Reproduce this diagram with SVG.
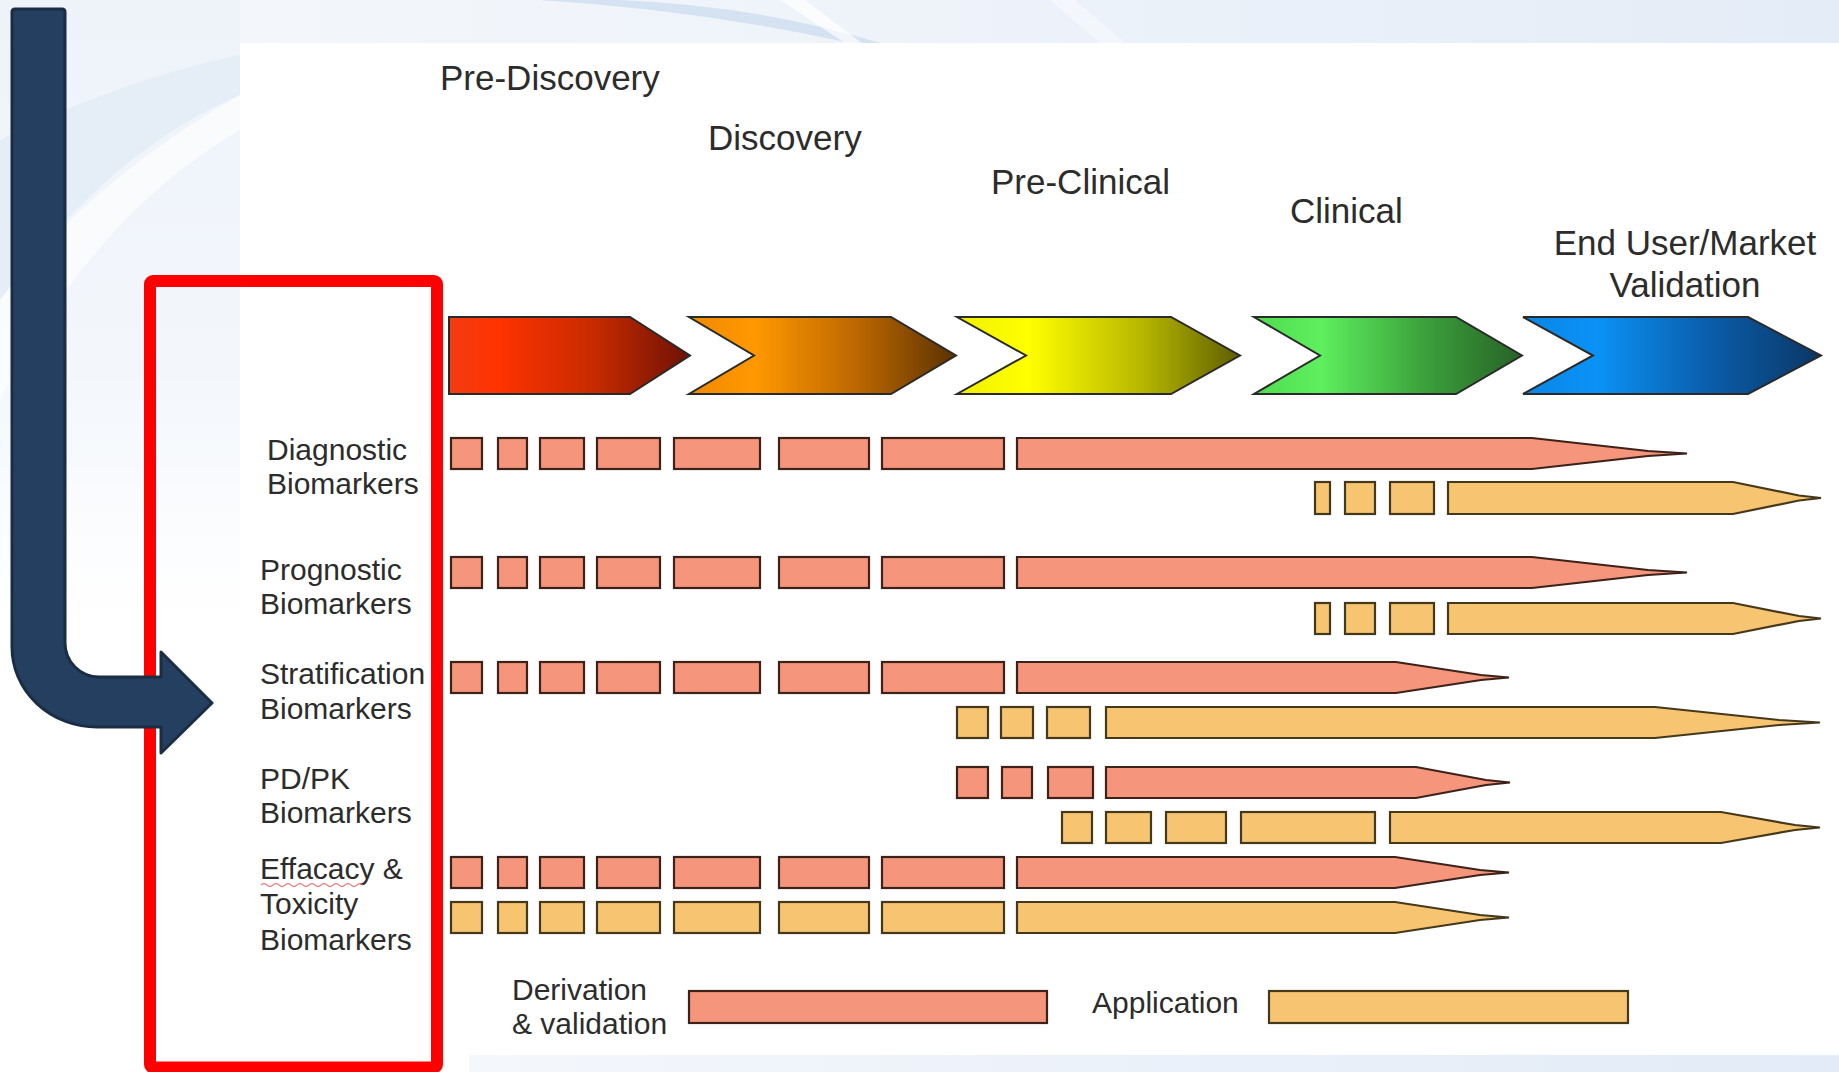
<svg xmlns="http://www.w3.org/2000/svg" width="1839" height="1072" viewBox="0 0 1839 1072">
<defs>
<style>
.lbl{font-family:"Liberation Sans",Arial,sans-serif;fill:#2c2c2c}
.ph{font-size:35px}
.rl{font-size:30px}
.s{fill:#f4957c;stroke:#3d2219;stroke-width:2.2}
.t{fill:#f7c571;stroke:#45391c;stroke-width:2.2}
.chev{stroke:#2a2a2a;stroke-width:2;stroke-linejoin:miter}
</style>
<linearGradient id="gTop" x1="0" y1="0" x2="1" y2="0">
<stop offset="0" stop-color="#f5f8fc"/><stop offset="0.5" stop-color="#eef3fa"/><stop offset="1" stop-color="#e4ecf7"/>
</linearGradient>
<linearGradient id="gBot" x1="0" y1="0" x2="1" y2="0">
<stop offset="0" stop-color="#f4f7fc"/><stop offset="1" stop-color="#e2ebf7"/>
</linearGradient>
<linearGradient id="gLeft" x1="0" y1="0" x2="0" y2="1">
<stop offset="0" stop-color="#eef3fa"/><stop offset="0.6" stop-color="#f3f7fc"/><stop offset="1" stop-color="#ffffff"/>
</linearGradient>
<linearGradient id="gRed" x1="0" y1="0" x2="1" y2="0">
<stop offset="0" stop-color="#f23c12"/><stop offset="0.2" stop-color="#ff3300"/><stop offset="0.6" stop-color="#c82a00"/><stop offset="1" stop-color="#6e1205"/>
</linearGradient>
<linearGradient id="gOrange" x1="0" y1="0" x2="1" y2="0">
<stop offset="0" stop-color="#f08a00"/><stop offset="0.25" stop-color="#ff9800"/><stop offset="0.65" stop-color="#b86400"/><stop offset="1" stop-color="#5a3200"/>
</linearGradient>
<linearGradient id="gYellow" x1="0" y1="0" x2="1" y2="0">
<stop offset="0" stop-color="#f0f000"/><stop offset="0.25" stop-color="#ffff00"/><stop offset="0.65" stop-color="#b8b800"/><stop offset="1" stop-color="#5e5e00"/>
</linearGradient>
<linearGradient id="gGreen" x1="0" y1="0" x2="1" y2="0">
<stop offset="0" stop-color="#4fdc4f"/><stop offset="0.25" stop-color="#5eef5e"/><stop offset="0.65" stop-color="#3a9e3a"/><stop offset="1" stop-color="#276227"/>
</linearGradient>
<linearGradient id="gBlue" x1="0" y1="0" x2="1" y2="0">
<stop offset="0" stop-color="#0a86e4"/><stop offset="0.25" stop-color="#0a92f6"/><stop offset="0.65" stop-color="#0a5aa6"/><stop offset="1" stop-color="#0b3766"/>
</linearGradient>
</defs>

<g id="background">
<rect x="0" y="0" width="1839" height="1072" fill="#ffffff"/>
<rect x="0" y="0" width="1839" height="43" fill="url(#gTop)"/>
<rect x="0" y="0" width="240" height="620" fill="url(#gLeft)"/>
<path d="M0,140 Q120,80 240,55 L240,95 Q110,150 0,300 Z" fill="#e2ebf6" opacity="0.8"/>
<path d="M0,300 Q90,180 240,95 L240,130 Q120,200 40,330 L0,400 Z" fill="#ffffff" opacity="0.6"/>
<path d="M540,0 Q700,10 850,43 L880,43 Q760,6 620,0 Z" fill="#d0e0f1" opacity="0.9"/>
<path d="M780,0 L845,43 L862,43 L805,0 Z" fill="#ffffff" opacity="0.7"/>
<path d="M1050,0 L1100,43 L1125,43 L1075,0 Z" fill="#ffffff" opacity="0.4"/>
<rect x="469" y="1055" width="1370" height="17" fill="url(#gBot)"/>
<rect x="240" y="43" width="1599" height="1012" fill="#ffffff"/>
</g>

<g id="phase-pre-discovery">
<polygon class="chev" fill="url(#gRed)" points="449,317 630,317 690,355.5 630,394 449,394"/>
<text class="lbl ph" x="440" y="90">Pre-Discovery</text>
</g>
<g id="phase-discovery">
<polygon class="chev" fill="url(#gOrange)" points="689,317 891,317 956,355.5 891,394 689,394 754,355.5"/>
<text class="lbl ph" x="708" y="150">Discovery</text>
</g>
<g id="phase-pre-clinical">
<polygon class="chev" fill="url(#gYellow)" points="957,317 1171,317 1240,355.5 1171,394 957,394 1026,355.5"/>
<text class="lbl ph" x="991" y="194">Pre-Clinical</text>
</g>
<g id="phase-clinical">
<polygon class="chev" fill="url(#gGreen)" points="1254,317 1456,317 1522,355.5 1456,394 1254,394 1320,355.5"/>
<text class="lbl ph" x="1290" y="223">Clinical</text>
</g>
<g id="phase-market">
<polygon class="chev" fill="url(#gBlue)" points="1523,317 1748,317 1821,355.5 1748,394 1523,394 1593,355.5"/>
<text class="lbl ph" x="1685" y="255" text-anchor="middle">End User/Market</text>
<text class="lbl ph" x="1685" y="297" text-anchor="middle">Validation</text>
</g>

<g id="row-diagnostic">
<text class="lbl rl" x="267" y="460">Diagnostic</text>
<text class="lbl rl" x="267" y="494">Biomarkers</text>
<rect class="s" x="451" y="438" width="31" height="31"/><rect class="s" x="498" y="438" width="29" height="31"/><rect class="s" x="540" y="438" width="44" height="31"/><rect class="s" x="597" y="438" width="63" height="31"/><rect class="s" x="674" y="438" width="86" height="31"/><rect class="s" x="779" y="438" width="90" height="31"/><rect class="s" x="882" y="438" width="122" height="31"/>
<polygon class="s" points="1017,438 1532,438 1648,451 1687,453.5 1648,456 1532,469 1017,469"/>
<rect class="t" x="1315" y="482" width="15" height="32"/><rect class="t" x="1345" y="482" width="30" height="32"/><rect class="t" x="1390" y="482" width="44" height="32"/>
<polygon class="t" points="1448,482 1733,482 1799,495.5 1821,498 1799,500.5 1733,514 1448,514"/>
</g>

<g id="row-prognostic">
<text class="lbl rl" x="260" y="580">Prognostic</text>
<text class="lbl rl" x="260" y="614">Biomarkers</text>
<rect class="s" x="451" y="557" width="31" height="31"/><rect class="s" x="498" y="557" width="29" height="31"/><rect class="s" x="540" y="557" width="44" height="31"/><rect class="s" x="597" y="557" width="63" height="31"/><rect class="s" x="674" y="557" width="86" height="31"/><rect class="s" x="779" y="557" width="90" height="31"/><rect class="s" x="882" y="557" width="122" height="31"/>
<polygon class="s" points="1017,557 1532,557 1648,570 1687,572.5 1648,575 1532,588 1017,588"/>
<rect class="t" x="1315" y="603" width="15" height="31"/><rect class="t" x="1345" y="603" width="30" height="31"/><rect class="t" x="1390" y="603" width="44" height="31"/>
<polygon class="t" points="1448,603 1733,603 1799,616 1821,618.5 1799,621 1733,634 1448,634"/>
</g>

<g id="row-stratification">
<text class="lbl rl" x="260" y="684">Stratification</text>
<text class="lbl rl" x="260" y="719">Biomarkers</text>
<rect class="s" x="451" y="662" width="31" height="31"/><rect class="s" x="498" y="662" width="29" height="31"/><rect class="s" x="540" y="662" width="44" height="31"/><rect class="s" x="597" y="662" width="63" height="31"/><rect class="s" x="674" y="662" width="86" height="31"/><rect class="s" x="779" y="662" width="90" height="31"/><rect class="s" x="882" y="662" width="122" height="31"/>
<polygon class="s" points="1017,662 1396,662 1481,675 1509,677.5 1481,680 1396,693 1017,693"/>
<rect class="t" x="957" y="707" width="31" height="31"/><rect class="t" x="1001" y="707" width="32" height="31"/><rect class="t" x="1047" y="707" width="43" height="31"/>
<polygon class="t" points="1106,707 1655,707 1779,720 1820,722.5 1779,725 1655,738 1106,738"/>
</g>

<g id="row-pdpk">
<text class="lbl rl" x="260" y="789">PD/PK</text>
<text class="lbl rl" x="260" y="823">Biomarkers</text>
<rect class="s" x="957" y="767" width="31" height="31"/><rect class="s" x="1002" y="767" width="30" height="31"/><rect class="s" x="1048" y="767" width="45" height="31"/>
<polygon class="s" points="1106,767 1416,767 1486,780 1510,782.5 1486,785 1416,798 1106,798"/>
<rect class="t" x="1062" y="812" width="30" height="31"/><rect class="t" x="1106" y="812" width="45" height="31"/><rect class="t" x="1166" y="812" width="60" height="31"/><rect class="t" x="1241" y="812" width="134" height="31"/>
<polygon class="t" points="1390,812 1721,812 1795,825 1820,827.5 1795,830 1721,843 1390,843"/>
</g>

<g id="row-efficacy">
<text class="lbl rl" x="260" y="879">Effacacy &amp;</text>
<path d="M261,885 q3,-3 6,0 t6,0 t6,0 t6,0 t6,0 t6,0 t6,0 t6,0 t6,0 t6,0 t6,0 t6,0 t6,0 t6,0 t6,0 t6,0 t6,0" fill="none" stroke="#e06a6a" stroke-width="1.3" opacity="0.8"/>
<text class="lbl rl" x="260" y="914">Toxicity</text>
<text class="lbl rl" x="260" y="950">Biomarkers</text>
<rect class="s" x="451" y="857" width="31" height="31"/><rect class="s" x="498" y="857" width="29" height="31"/><rect class="s" x="540" y="857" width="44" height="31"/><rect class="s" x="597" y="857" width="63" height="31"/><rect class="s" x="674" y="857" width="86" height="31"/><rect class="s" x="779" y="857" width="90" height="31"/><rect class="s" x="882" y="857" width="122" height="31"/>
<polygon class="s" points="1017,857 1395,857 1480,870 1509,872.5 1480,875 1395,888 1017,888"/>
<rect class="t" x="451" y="902" width="31" height="31"/><rect class="t" x="498" y="902" width="29" height="31"/><rect class="t" x="540" y="902" width="44" height="31"/><rect class="t" x="597" y="902" width="63" height="31"/><rect class="t" x="674" y="902" width="86" height="31"/><rect class="t" x="779" y="902" width="90" height="31"/><rect class="t" x="882" y="902" width="122" height="31"/>
<polygon class="t" points="1017,902 1395,902 1480,915 1509,917.5 1480,920 1395,933 1017,933"/>
</g>

<g id="legend-derivation">
<text class="lbl rl" x="512" y="1000">Derivation</text>
<text class="lbl rl" x="512" y="1034">&amp; validation</text>
<rect class="s" x="689" y="991" width="358" height="32"/>
</g>
<g id="legend-application">
<text class="lbl rl" x="1092" y="1013">Application</text>
<rect class="t" x="1269" y="991" width="359" height="32"/>
</g>

<g id="highlight-box">
<rect x="150" y="281" width="287" height="786.5" rx="3" fill="none" stroke="#ff0000" stroke-width="12"/>
</g>

<g id="connectors">
<path d="M12,12 Q12,9 15,9 L62,9 Q65,9 65,12 L65,643 A34,34 0 0 0 99,677 L161,677 L161,652 L212,703 L161,753 L161,727 L97,727 A85,80 0 0 1 12,647 Z" fill="#243f5f" stroke="#1a2d45" stroke-width="3" stroke-linejoin="round"/>
</g>
</svg>
